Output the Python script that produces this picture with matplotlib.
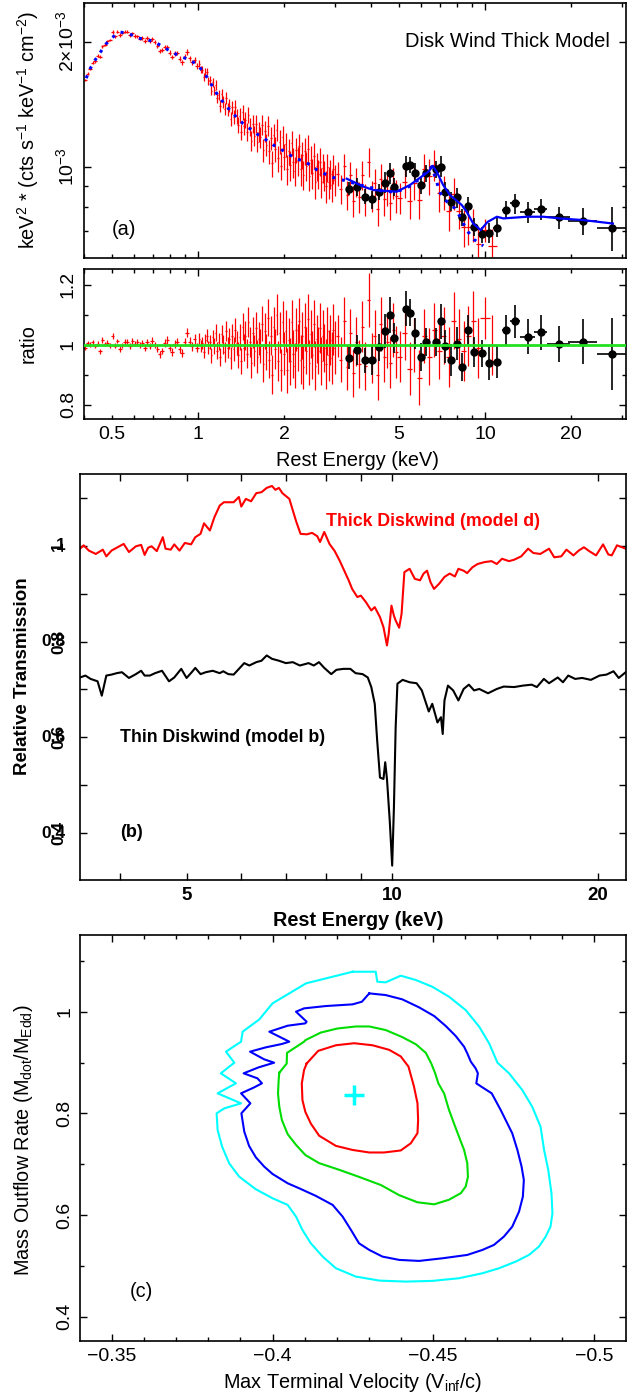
import numpy as np
import matplotlib
matplotlib.use("Agg")
import matplotlib.pyplot as plt
from matplotlib.ticker import FixedLocator, FixedFormatter, NullFormatter

plt.rcParams['font.family'] = ['Liberation Sans', 'DejaVu Sans']
plt.rcParams['mathtext.fontset'] = 'custom'
plt.rcParams['mathtext.rm'] = 'Liberation Sans'
plt.rcParams['mathtext.it'] = 'Liberation Sans:italic'
plt.rcParams['mathtext.bf'] = 'Liberation Sans:bold'

# ---------------- panel (a): model curves ----------------
dot_E = [0.408, 0.421, 0.438, 0.456, 0.478, 0.501, 0.536, 0.576, 0.617, 0.663,
         0.715, 0.762, 0.815, 0.871, 0.934, 0.995, 1.044, 1.090, 1.131, 1.178,
         1.236, 1.300, 1.371, 1.439, 1.518, 1.601, 1.689, 1.791, 1.889, 1.998,
         2.108, 2.223, 2.371, 2.507, 2.673, 2.866, 3.087, 3.302, 3.578, 4.087,
         4.428, 4.797, 5.131, 5.485, 5.861, 6.268, 6.525, 6.699, 6.972, 7.452,
         7.864, 8.185, 8.637, 9.157, 9.865]
dot_F = [1.634, 1.721, 1.806, 1.882, 1.975, 2.046, 2.111, 2.092, 2.042, 2.027,
         1.990, 1.938, 1.885, 1.844, 1.809, 1.763, 1.692, 1.622, 1.548, 1.478,
         1.419, 1.362, 1.310, 1.269, 1.234, 1.200, 1.174, 1.139, 1.112, 1.089,
         1.063, 1.042, 1.028, 0.997, 0.971, 0.950, 0.932, 0.924, 0.907, 0.887,
         0.870, 0.870, 0.878, 0.898, 0.929, 0.972, 1.000, 0.946, 0.865, 0.815,
         0.793, 0.757, 0.703, 0.667, 0.644]   # x 1e-3

sol_E = [3.30, 3.77, 4.09, 4.93, 5.48, 5.94, 6.35, 6.58, 6.79, 7.15, 7.55, 8.30,
         8.64, 9.10, 9.66, 10.2, 11.0, 11.6, 14.0, 16.0, 18.2, 22.0, 27.9]
sol_F = [0.935, 0.895, 0.878, 0.870, 0.903, 0.940, 0.972, 1.004, 0.972, 0.903,
         0.854, 0.808, 0.778, 0.729, 0.703, 0.735, 0.757, 0.750, 0.757, 0.757,
         0.750, 0.743, 0.729]  # x 1e-3

# ---------------- red data (ratio to dotted model) ----------------
red_E = [0.405, 0.413, 0.421, 0.430, 0.438, 0.447, 0.456, 0.465, 0.475, 0.484,
         0.494, 0.504, 0.514, 0.524, 0.535, 0.546, 0.557, 0.568, 0.580, 0.591,
         0.603, 0.615, 0.628, 0.640, 0.653, 0.666, 0.680, 0.693, 0.707, 0.722,
         0.736, 0.751, 0.766, 0.782, 0.797, 0.813, 0.830, 0.846, 0.863, 0.881,
         0.899, 0.917, 0.935, 0.954, 0.973, 0.993,
         1.012, 1.024, 1.036, 1.049, 1.061, 1.074, 1.087, 1.100, 1.113, 1.126,
         1.140, 1.153, 1.167, 1.181, 1.195, 1.210, 1.224, 1.239, 1.254, 1.269,
         1.284, 1.300, 1.315, 1.331, 1.347, 1.363, 1.379, 1.396, 1.413, 1.430,
         1.447, 1.464, 1.482, 1.500, 1.518, 1.536, 1.554, 1.573, 1.592, 1.611,
         1.630, 1.650, 1.670, 1.690, 1.710, 1.730, 1.751, 1.772, 1.794, 1.815,
         1.837, 1.859, 1.881, 1.904, 1.927, 1.950, 1.973, 1.997,
         2.021, 2.045, 2.070, 2.094, 2.120, 2.145, 2.171, 2.197, 2.223, 2.250,
         2.277, 2.304, 2.332, 2.360, 2.388, 2.417, 2.446, 2.475, 2.505, 2.535,
         2.565, 2.596, 2.627, 2.659, 2.691, 2.723, 2.756, 2.789, 2.822, 2.856,
         2.890, 2.925, 2.960, 2.996,
         3.07, 3.15, 3.23, 3.31, 3.39, 3.47, 3.56, 3.65, 3.74, 3.83,
         3.93, 4.03, 4.13, 4.23, 4.34, 4.45, 4.56, 4.67, 4.79, 4.91,
         5.05, 5.25, 5.46, 5.68, 5.91, 6.15, 6.40, 6.65, 6.92, 7.19,
         7.48, 7.78, 8.09, 8.42, 8.75, 9.10, 9.47, 10.0, 10.6]
red_ratio = [0.990, 1.005, 1.000, 1.008, 0.995, 1.003, 0.978, 1.015, 1.002, 1.006,
             0.998, 1.030, 0.996, 1.012, 0.985, 0.997, 1.008, 1.010, 0.995, 1.012,
             1.003, 1.008, 0.998, 1.005, 0.990, 1.010, 0.996, 1.013, 1.000, 0.985,
             0.968, 0.978, 1.005, 1.015, 0.990, 0.975, 1.002, 1.010, 0.985, 0.972,
             1.008, 1.040, 1.010, 0.995, 1.018, 0.990,
             1.020, 0.995, 1.005, 0.975, 1.015, 1.030, 0.990, 1.008, 0.965, 1.025,
             0.995, 1.040, 0.980, 1.010, 0.960, 1.035, 1.000, 0.975, 1.045, 0.990,
             1.020, 0.955, 1.030, 0.985, 1.050, 1.005, 0.965, 1.025, 0.945, 1.060,
             0.990, 1.030, 0.970, 1.075, 1.010, 0.940, 1.040, 0.980, 1.055, 0.960,
             1.020, 0.995, 1.070, 0.935, 1.045, 0.975, 1.090, 0.950, 1.030, 0.900,
             1.060, 0.985, 1.100, 0.945, 1.040, 0.915, 1.075, 0.970,
             1.045, 0.915, 1.015, 0.945, 1.075, 0.970, 0.930, 1.050, 0.990, 1.080,
             0.950, 1.030, 0.925, 1.060, 0.980, 1.085, 0.940, 1.035, 0.965, 1.070,
             0.930, 1.020, 0.980, 1.055, 0.945, 1.030, 0.990, 0.935, 1.045, 0.965,
             1.015, 0.955, 1.050, 0.990,
             1.030, 0.950, 1.080, 0.925, 1.040, 0.905, 1.010, 0.935, 1.060, 0.930,
             1.150, 0.955, 1.030, 0.900, 1.070, 0.960, 1.010, 0.940, 1.050, 0.975,
             0.960, 1.040, 0.920, 1.000, 0.890, 1.030, 0.960, 1.050, 0.980, 1.030,
             0.960, 1.080, 1.020, 0.980, 1.030, 1.080, 0.990, 1.090, 1.000]
red_rerr = [0.008, 0.008, 0.008, 0.008, 0.008, 0.008, 0.008, 0.009, 0.008, 0.008,
            0.008, 0.010, 0.008, 0.008, 0.009, 0.008, 0.009, 0.008, 0.009, 0.009,
            0.009, 0.009, 0.009, 0.010, 0.010, 0.010, 0.010, 0.011, 0.010, 0.011,
            0.012, 0.011, 0.012, 0.012, 0.012, 0.012, 0.013, 0.013, 0.013, 0.014,
            0.014, 0.016, 0.014, 0.015, 0.016, 0.016,
            0.019, 0.019, 0.020, 0.021, 0.021, 0.022, 0.023, 0.024, 0.025, 0.025,
            0.026, 0.027, 0.028, 0.029, 0.030, 0.031, 0.032, 0.033, 0.034, 0.035,
            0.036, 0.037, 0.038, 0.039, 0.040, 0.041, 0.042, 0.043, 0.044, 0.045,
            0.046, 0.047, 0.048, 0.049, 0.050, 0.051, 0.052, 0.053, 0.054, 0.055,
            0.056, 0.057, 0.058, 0.059, 0.060, 0.061, 0.062, 0.063, 0.064, 0.065,
            0.066, 0.067, 0.068, 0.068, 0.069, 0.070, 0.070, 0.071,
            0.070, 0.075, 0.072, 0.078, 0.074, 0.080, 0.076, 0.073, 0.079, 0.075,
            0.082, 0.077, 0.074, 0.080, 0.078, 0.085, 0.076, 0.081, 0.079, 0.077,
            0.083, 0.080, 0.078, 0.082, 0.079, 0.084, 0.080, 0.083, 0.081, 0.085,
            0.082, 0.086, 0.084, 0.087,
            0.070, 0.075, 0.080, 0.075, 0.080, 0.078, 0.082, 0.080, 0.085, 0.080,
            0.090, 0.082, 0.085, 0.083, 0.090, 0.085, 0.088, 0.086, 0.090, 0.088,
            0.085, 0.090, 0.088, 0.090, 0.092, 0.090, 0.095, 0.090, 0.095, 0.095,
            0.100, 0.095, 0.100, 0.100, 0.100, 0.100, 0.100, 0.070, 0.100]
red_dEfrac = [0.014] * 46 + [0.006] * 58 + [0.006] * 34 + [0.012] * 20 + [0.02] * 17 + [0.04, 0.035]

# ---------------- black data ----------------
bk_E = [3.37, 3.59, 3.82, 4.03, 4.29, 4.49, 4.65, 4.84, 5.30, 5.48, 5.71, 5.97,
        6.23, 6.75, 7.01, 7.26, 7.62, 7.97, 8.34, 8.73, 9.18, 9.74, 10.35, 10.98,
        11.83, 12.75, 14.08, 15.66, 18.14, 21.98, 27.8]
bk_dE = [0.08, 0.08, 0.09, 0.09, 0.10, 0.10, 0.10, 0.10, 0.12, 0.12, 0.13, 0.13,
         0.14, 0.15, 0.16, 0.16, 0.17, 0.18, 0.20, 0.20, 0.22, 0.24, 0.26, 0.30,
         0.40, 0.50, 0.80, 0.80, 1.70, 2.50, 3.30]
bk_F = [0.885, 0.895, 0.846, 0.834, 0.870, 0.915, 0.964, 0.895, 1.004, 1.010,
        0.967, 0.903, 0.964, 0.985, 1.000, 0.870, 0.823, 0.843, 0.754, 0.803,
        0.716, 0.686, 0.692, 0.713, 0.786, 0.815, 0.778, 0.790, 0.754, 0.740, 0.712]
bk_ratio = [0.956, 0.983, 0.948, 0.948, 0.991, 1.045, 1.100, 1.022, 1.120, 1.106,
            1.037, 0.958, 1.009, 1.009, 1.078, 0.995, 0.950, 1.002, 0.926, 1.050,
            0.976, 0.971, 0.937, 0.941, 1.050, 1.078, 1.026, 1.041, 1.003, 1.010, 0.969]
bk_rerr = [0.036, 0.050, 0.042, 0.050, 0.045, 0.058, 0.060, 0.050, 0.058, 0.045,
           0.053, 0.047, 0.047, 0.047, 0.058, 0.055, 0.053, 0.055, 0.047, 0.050,
           0.050, 0.045, 0.055, 0.053, 0.050, 0.055, 0.058, 0.058, 0.060, 0.075, 0.120]

# ---------------- panel (b): transmission ----------------
thick_E = [3.491, 3.533, 3.596, 3.681, 3.769, 3.814, 3.881, 3.950, 4.044, 4.116,
           4.214, 4.289, 4.340, 4.391, 4.443, 4.522, 4.614, 4.657, 4.740, 4.796,
           4.881, 4.970, 5.076, 5.148, 5.240, 5.302, 5.408, 5.492, 5.590, 5.669,
           5.859, 5.963, 6.012, 6.105, 6.214, 6.324, 6.436, 6.550, 6.667, 6.745,
           6.825, 6.906, 7.070, 7.153, 7.238, 7.342, 7.499, 7.633, 7.768, 7.841,
           7.953, 8.094, 8.238, 8.384, 8.483, 8.635, 8.737, 8.892, 8.997, 9.157,
           9.320, 9.429, 9.597, 9.711, 9.826, 9.883, 9.976, 10.059, 10.118, 10.238,
           10.322, 10.420, 10.605, 10.794, 10.986, 11.116, 11.247, 11.380, 11.515, 11.719,
           11.928, 12.140, 12.356, 12.502, 12.725, 12.875, 13.104, 13.338, 13.655, 13.980,
           14.229, 14.482, 14.826, 15.090, 15.449, 15.816, 16.098, 16.480, 16.971, 17.273,
           17.684, 17.999, 18.427, 18.755, 19.089, 19.429, 19.888, 20.362, 20.724, 20.969,
           21.342, 21.978]
thick_T = [0.994, 1.001, 0.990, 0.983, 0.992, 0.978, 0.990, 0.996, 1.004, 0.987,
           0.999, 1.002, 0.981, 0.996, 0.999, 0.989, 1.018, 0.994, 0.992, 1.003,
           0.990, 1.006, 1.003, 1.018, 1.025, 1.047, 1.032, 1.060, 1.084, 1.091,
           1.091, 1.102, 1.082, 1.098, 1.093, 1.110, 1.112, 1.121, 1.125, 1.117,
           1.121, 1.110, 1.098, 1.074, 1.050, 1.025, 1.024, 1.027, 1.020, 1.008,
           1.029, 1.004, 0.989, 0.968, 0.952, 0.928, 0.910, 0.893, 0.896, 0.882,
           0.865, 0.872, 0.851, 0.830, 0.792, 0.816, 0.875, 0.854, 0.844, 0.829,
           0.858, 0.945, 0.952, 0.931, 0.928, 0.942, 0.948, 0.924, 0.910, 0.921,
           0.935, 0.942, 0.936, 0.952, 0.948, 0.943, 0.955, 0.962, 0.966, 0.968,
           0.962, 0.973, 0.968, 0.971, 0.978, 0.994, 0.985, 0.983, 0.994, 0.976,
           0.978, 0.992, 0.980, 0.990, 0.997, 0.989, 0.980, 1.003, 0.982, 0.980,
           1.001, 0.994]
thin_E = [3.491, 3.554, 3.617, 3.703, 3.756, 3.814, 3.881, 3.950, 4.020, 4.116,
          4.214, 4.289, 4.340, 4.417, 4.495, 4.602, 4.712, 4.796, 4.910, 4.999,
          5.087, 5.148, 5.240, 5.333, 5.460, 5.590, 5.656, 5.755, 5.859, 6.072,
          6.177, 6.324, 6.436, 6.550, 6.667, 6.825, 6.988, 7.153, 7.325, 7.543,
          7.677, 7.813, 7.953, 8.142, 8.286, 8.483, 8.684, 8.839, 9.050, 9.210,
          9.320, 9.429, 9.507, 9.597, 9.711, 9.768, 9.826, 9.918, 10.000, 10.059,
          10.118, 10.178, 10.359, 10.605, 10.858, 11.051, 11.313, 11.447, 11.650, 11.788,
          11.858, 11.928, 12.069, 12.284, 12.502, 12.725, 12.951, 13.181, 13.415, 13.815,
          14.229, 14.567, 15.090, 15.539, 16.003, 16.287, 16.679, 16.971, 17.476, 17.787,
          18.106, 18.535, 18.976, 19.543, 20.122, 20.600, 21.093, 21.466, 21.978]
thin_T = [0.725, 0.729, 0.722, 0.717, 0.687, 0.729, 0.731, 0.734, 0.736, 0.724,
          0.732, 0.739, 0.729, 0.729, 0.734, 0.739, 0.717, 0.725, 0.743, 0.724,
          0.736, 0.745, 0.732, 0.736, 0.739, 0.734, 0.738, 0.732, 0.731, 0.755,
          0.750, 0.757, 0.760, 0.771, 0.764, 0.760, 0.755, 0.757, 0.750, 0.755,
          0.750, 0.757, 0.745, 0.732, 0.741, 0.743, 0.743, 0.734, 0.732, 0.725,
          0.705, 0.670, 0.593, 0.516, 0.513, 0.548, 0.513, 0.426, 0.332, 0.454,
          0.621, 0.712, 0.720, 0.715, 0.713, 0.698, 0.654, 0.670, 0.631, 0.642,
          0.607, 0.677, 0.708, 0.698, 0.677, 0.701, 0.710, 0.698, 0.701, 0.692,
          0.701, 0.706, 0.705, 0.708, 0.710, 0.705, 0.722, 0.713, 0.725, 0.715,
          0.729, 0.722, 0.724, 0.720, 0.729, 0.731, 0.738, 0.724, 0.736]

# ---------------- panel (c): confidence contours ----------------
c_red_x = [-0.4106, -0.4142, -0.4197, -0.4254, -0.4311, -0.4363, -0.4399, -0.4423, -0.4440, -0.4451,
           -0.4453, -0.4451, -0.4430, -0.4399, -0.4347, -0.4301, -0.4249, -0.4197, -0.4145, -0.4119,
           -0.4102, -0.4093, -0.4091, -0.4098, -0.4106]
c_red_y = [0.898, 0.923, 0.934, 0.938, 0.934, 0.925, 0.912, 0.892, 0.853, 0.820,
           0.787, 0.761, 0.741, 0.727, 0.723, 0.723, 0.728, 0.736, 0.756, 0.780,
           0.803, 0.826, 0.859, 0.885, 0.898]
c_green_x = [-0.4021, -0.4044, -0.4045, -0.4098, -0.4102, -0.4150, -0.4202, -0.4259, -0.4301, -0.4352,
             -0.4404, -0.4446, -0.4477, -0.4494, -0.4506, -0.4516, -0.4534, -0.4549, -0.4570, -0.4596,
             -0.4606, -0.4608, -0.4601, -0.4586, -0.4549, -0.4503, -0.4451, -0.4394, -0.4337, -0.4269,
             -0.4207, -0.4145, -0.4102, -0.4073, -0.4047, -0.4029, -0.4021, -0.4017, -0.4019, -0.4021]
c_green_y = [0.880, 0.898, 0.919, 0.941, 0.944, 0.959, 0.967, 0.971, 0.971, 0.964,
             0.950, 0.936, 0.919, 0.898, 0.879, 0.859, 0.839, 0.807, 0.771, 0.728,
             0.702, 0.675, 0.656, 0.643, 0.630, 0.621, 0.625, 0.639, 0.659, 0.675,
             0.689, 0.702, 0.718, 0.738, 0.759, 0.787, 0.813, 0.839, 0.866, 0.880]
c_blue_x = [-0.4301, -0.4352, -0.4404, -0.4456, -0.4503, -0.4539, -0.4570, -0.4596, -0.4606, -0.4617,
            -0.4632, -0.4639, -0.4634, -0.4653, -0.4682, -0.4710, -0.4746, -0.4762, -0.4775, -0.4782,
            -0.4779, -0.4767, -0.4746, -0.4720, -0.4689, -0.4653, -0.4606, -0.4529, -0.4456, -0.4394,
            -0.4342, -0.4301, -0.4269, -0.4244, -0.4218, -0.4187, -0.4135, -0.4083, -0.4047, -0.4000,
            -0.3974, -0.3948, -0.3927, -0.3912, -0.3903, -0.3931, -0.3902, -0.3941, -0.3967, -0.3953,
            -0.3910, -0.3957, -0.4005, -0.3974, -0.3930, -0.3979, -0.4029, -0.4052, -0.3990, -0.4047,
            -0.4102, -0.4106, -0.4073, -0.4098, -0.4166, -0.4249, -0.4278, -0.4301]
c_blue_y = [1.0361, 1.0328, 1.0243, 1.0086, 0.9915, 0.9719, 0.9522, 0.9312, 0.9181, 0.9017,
            0.8886, 0.8788, 0.8591, 0.8512, 0.8394, 0.8066, 0.7607, 0.7279, 0.6952, 0.6689,
            0.6361, 0.6066, 0.5771, 0.5575, 0.5411, 0.5312, 0.5214, 0.5148, 0.5096, 0.5116,
            0.5181, 0.5312, 0.5443, 0.5706, 0.5968, 0.6198, 0.6375, 0.6525, 0.6624, 0.6807,
            0.6952, 0.7135, 0.7358, 0.7640, 0.8001, 0.8197, 0.8394, 0.8506, 0.8591, 0.8689,
            0.8788, 0.8906, 0.8997, 0.9063, 0.9214, 0.9299, 0.9365, 0.9411, 0.9607, 0.9725,
            0.9771, 0.9804, 1.0001, 1.0066, 1.0112, 1.0145, 1.0197, 1.0361]
c_cyan_x = [-0.4249, -0.4321, -0.4326, -0.4352, -0.4399, -0.4446, -0.4497, -0.4549, -0.4601, -0.4643,
            -0.4674, -0.4700, -0.4736, -0.4777, -0.4808, -0.4834, -0.4845, -0.4858, -0.4868, -0.4871,
            -0.4865, -0.4850, -0.4829, -0.4798, -0.4757, -0.4705, -0.4653, -0.4580, -0.4497, -0.4415,
            -0.4332, -0.4259, -0.4197, -0.4156, -0.4119, -0.4093, -0.4073, -0.4047, -0.4000, -0.3948,
            -0.3896, -0.3865, -0.3843, -0.3829, -0.3826, -0.3850, -0.3902, -0.3829, -0.3886, -0.3839,
            -0.3881, -0.3855, -0.3902, -0.3907, -0.3959, -0.4000, -0.4052, -0.4104, -0.4187, -0.4249]
c_cyan_y = [1.0787, 1.0787, 1.0591, 1.0578, 1.0709, 1.0624, 1.0492, 1.0296, 1.0033, 0.9706,
            0.9378, 0.8997, 0.8788, 0.8460, 0.8132, 0.7738, 0.7279, 0.6886, 0.6427, 0.6034,
            0.5771, 0.5575, 0.5378, 0.5214, 0.5083, 0.4952, 0.4853, 0.4755, 0.4703, 0.4689,
            0.4709, 0.4788, 0.4952, 0.5181, 0.5443, 0.5706, 0.5968, 0.6198, 0.6329, 0.6506,
            0.6755, 0.7017, 0.7345, 0.7673, 0.8001, 0.8099, 0.8197, 0.8394, 0.8591, 0.8788,
            0.8997, 0.9214, 0.9411, 0.9607, 0.9850, 1.0165, 1.0361, 1.0558, 1.0689, 1.0787]
best_v = -0.4252
best_m = 0.836

# ======================= drawing =======================
W, H = 641, 1394
fig = plt.figure(figsize=(W / 100, H / 100), dpi=100)


def add_ax(l, t, r, b):
    return fig.add_axes([l / W, 1 - b / H, (r - l) / W, (b - t) / H])


def frame(ax, major=5.0, minor=3.0):
    ax.tick_params(which='both', direction='in', top=True, right=True, width=1.0)
    ax.tick_params(which='major', length=major)
    ax.tick_params(which='minor', length=minor)
    for s in ax.spines.values():
        s.set_linewidth(1.2)


FS = 14      # tick labels
LS = 14.3    # axis labels
RED = '#ff0000'
BLUE = '#0000ff'

# ---- panel a ----
axA = add_ax(83.7, 2.7, 626, 258)
axR = add_ax(83.7, 269, 626, 419)

red_E_a = np.array(red_E)
red_r_a = np.array(red_ratio)
red_re_a = np.array(red_rerr)
mod_at_red = 10 ** np.interp(np.log10(red_E_a), np.log10(dot_E), np.log10(dot_F)) * 1e-3
red_xerr = red_E_a * np.array(red_dEfrac)

axA.errorbar(red_E_a, mod_at_red * red_r_a, xerr=red_xerr, yerr=mod_at_red * red_re_a,
             fmt='none', ecolor=RED, elinewidth=0.9, capsize=0, zorder=2)
bkF = np.array(bk_F) * 1e-3
axA.errorbar(bk_E, bkF, xerr=bk_dE, yerr=bkF * np.array(bk_rerr), fmt='o', color='black',
             ms=5, elinewidth=1.2, capsize=0, zorder=3)
axA.plot(dot_E, np.array(dot_F) * 1e-3, color=BLUE, lw=2.2, ls=(0, (1, 2.2)), zorder=4)
axA.plot(sol_E, np.array(sol_F) * 1e-3, color=BLUE, lw=1.6, zorder=5)

axR.errorbar(red_E_a, red_r_a, xerr=red_xerr, yerr=red_re_a, fmt='none', ecolor=RED,
             elinewidth=0.9, capsize=0, zorder=2)
axR.errorbar(bk_E, bk_ratio, xerr=bk_dE, yerr=bk_rerr, fmt='o', color='black', ms=5,
             elinewidth=1.2, capsize=0, zorder=3)
axR.axhline(1.0, color='#22e022', lw=2.0, zorder=6)

minor_x = [0.4, 0.5, 0.6, 0.7, 0.8, 0.9, 2, 3, 4, 5, 6, 7, 8, 9, 20, 30]
minor_lab = ['', '0.5', '', '', '', '', '2', '', '', '5', '', '', '', '', '20', '']
for ax in (axA, axR):
    ax.set_xscale('log')
    ax.set_xlim(0.4, 31)
    ax.xaxis.set_major_locator(FixedLocator([1, 10]))
    ax.xaxis.set_minor_locator(FixedLocator(minor_x))
    frame(ax)
axA.xaxis.set_major_formatter(NullFormatter())
axA.xaxis.set_minor_formatter(NullFormatter())
axR.xaxis.set_major_formatter(FixedFormatter(['1', '10']))
axR.xaxis.set_minor_formatter(FixedFormatter(minor_lab))
axR.tick_params(axis='x', which='both', labelsize=FS, pad=5)

axA.set_yscale('log')
axA.set_ylim(6.02e-4, 2.485e-3)
axA.yaxis.set_major_locator(FixedLocator([1e-3, 2e-3]))
axA.yaxis.set_major_formatter(FixedFormatter(['10$^{-3}$', '2\u00d710$^{-3}$']))
axA.yaxis.set_minor_locator(FixedLocator([7e-4, 8e-4, 9e-4]))
axA.yaxis.set_minor_formatter(NullFormatter())
axA.tick_params(axis='y', which='major', labelsize=FS, labelrotation=90, pad=5)
for t in axA.get_yticklabels():
    t.set_va('center')

axR.set_ylim(0.752, 1.252)
axR.yaxis.set_major_locator(FixedLocator([0.8, 1.0, 1.2]))
axR.yaxis.set_major_formatter(FixedFormatter(['0.8', '1', '1.2']))
axR.yaxis.set_minor_locator(FixedLocator([0.9, 1.1]))
axR.tick_params(axis='y', which='major', labelsize=FS, labelrotation=90, pad=5)
for t in axR.get_yticklabels():
    t.set_va('center')

axA.text(0.970, 0.847, 'Disk Wind Thick Model', transform=axA.transAxes, ha='right',
         va='center', fontsize=14.5)
axA.text(0.052, 0.11, '(a)', transform=axA.transAxes, ha='left', va='center', fontsize=LS)

fig.text(28 / W, 1 - 130 / H, 'keV$^2$ * (cts s$^{-1}$ keV$^{-1}$ cm$^{-2}$)', rotation=90,
         ha='center', va='center', fontsize=LS)
fig.text(28 / W, 1 - 344 / H, 'ratio', rotation=90, ha='center', va='center', fontsize=LS)
fig.text(358 / W, 1 - 460 / H, 'Rest Energy (keV)', ha='center', va='center', fontsize=LS)

# ---- panel b ----
axB = add_ax(80, 474, 626, 880)
axB.plot(thick_E, thick_T, color=RED, lw=1.5)
axB.plot(thin_E, thin_T, color='black', lw=1.5)
axB.set_xscale('log')
axB.set_xlim(3.49, 22.0)
axB.set_ylim(0.302, 1.150)
axB.xaxis.set_major_locator(FixedLocator([5, 10, 20]))
axB.xaxis.set_major_formatter(FixedFormatter(['5', '10', '20']))
axB.xaxis.set_minor_locator(FixedLocator([4, 6, 7, 8, 9]))
axB.xaxis.set_minor_formatter(NullFormatter())
axB.yaxis.set_major_locator(FixedLocator([0.4, 0.6, 0.8, 1.0]))
axB.yaxis.set_minor_locator(FixedLocator([0.5, 0.7, 0.9, 1.1]))
axB.yaxis.set_major_formatter(NullFormatter())
frame(axB, major=5, minor=5)
axB.tick_params(axis='x', which='major', labelsize=13.5, pad=5)
for t in axB.get_xticklabels():
    t.set_fontweight('bold')
ytr = axB.get_yaxis_transform()
for v, s in [(0.4, '0.4'), (0.6, '0.6'), (0.8, '0.8'), (1.0, '1')]:
    axB.text(-14 / 546, v, s, transform=ytr, ha='right', va='center', fontsize=12.5,
             fontweight='bold')
    axB.text(-14 / 546, v, s, transform=ytr, ha='right', va='center', fontsize=12.5,
             fontweight='bold', rotation=90)
axB.text(0.450, 0.884, 'Thick Diskwind (model d)', transform=axB.transAxes, color=RED,
         ha='left', va='center', fontsize=12.8, fontweight='bold')
axB.text(0.073, 0.352, 'Thin Diskwind (model b)', transform=axB.transAxes, color='black',
         ha='left', va='center', fontsize=12.8, fontweight='bold')
axB.text(0.073, 0.116, '(b)', transform=axB.transAxes, ha='left', va='center', fontsize=13,
         fontweight='bold')
fig.text(23 / W, 1 - 676 / H, 'Relative Transmission', rotation=90, ha='center', va='center',
         fontsize=13.5, fontweight='bold')
fig.text(358 / W, 1 - 921 / H, 'Rest Energy (keV)', ha='center', va='center', fontsize=14.3,
         fontweight='bold')

# ---- panel c ----
axC = add_ax(80.4, 935, 625.7, 1341)
axC.plot(c_cyan_x, c_cyan_y, color='#00ffff', lw=1.5)
axC.plot(c_blue_x, c_blue_y, color=BLUE, lw=1.5)
axC.plot(c_green_x, c_green_y, color='#00dd00', lw=1.5)
axC.plot(c_red_x, c_red_y, color=RED, lw=1.5)
axC.plot([best_v], [best_m], marker='+', color='#00ffff', ms=14, mew=2.5, ls='none')
axC.set_xlim(-0.3402, -0.5099)
axC.set_ylim(0.352, 1.151)
axC.xaxis.set_major_locator(FixedLocator([-0.35, -0.40, -0.45, -0.50]))
axC.xaxis.set_major_formatter(FixedFormatter(['\u22120.35', '\u22120.4', '\u22120.45', '\u22120.5']))
axC.xaxis.set_minor_locator(FixedLocator(np.arange(-0.51, -0.335, 0.01)))
axC.yaxis.set_major_locator(FixedLocator([0.4, 0.6, 0.8, 1.0]))
axC.yaxis.set_major_formatter(FixedFormatter(['0.4', '0.6', '0.8', '1']))
axC.yaxis.set_minor_locator(FixedLocator([0.5, 0.7, 0.9, 1.1]))
frame(axC)
axC.tick_params(axis='x', which='major', labelsize=FS, pad=5)
axC.tick_params(axis='y', which='major', labelsize=FS, labelrotation=90, pad=5)
for t in axC.get_yticklabels():
    t.set_va('center')
axC.text(0.091, 0.123, '(c)', transform=axC.transAxes, ha='left', va='center', fontsize=LS)
fig.text(24 / W, 1 - 1140 / H, 'Mass Outflow Rate (M$_{\\rm dot}$/M$_{\\rm Edd}$)',
         rotation=90, ha='center', va='center', fontsize=LS)
fig.text(353 / W, 1 - 1382 / H, 'Max Terminal Velocity (V$_{\\rm inf}$/c)', ha='center',
         va='center', fontsize=LS)

fig.savefig('out.png', dpi=100)
